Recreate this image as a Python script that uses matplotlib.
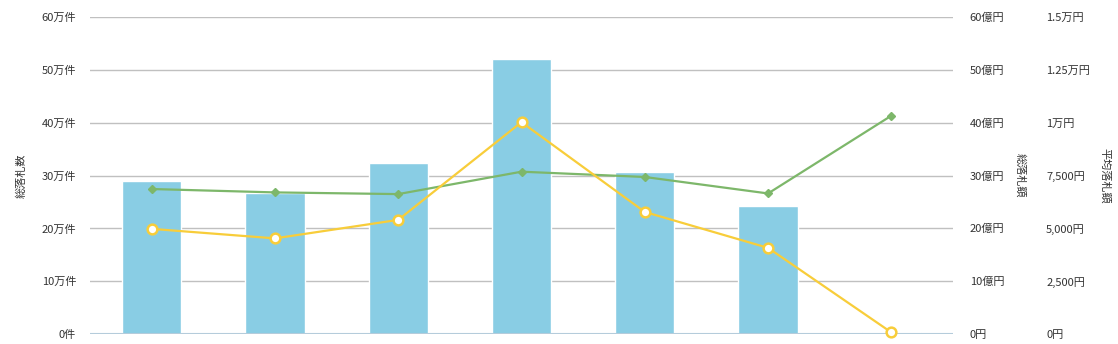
import matplotlib
matplotlib.use("Agg")
import matplotlib.pyplot as plt
from matplotlib.ticker import FixedLocator, FixedFormatter

plt.rcParams['font.family'] = ['Noto Sans CJK JP', 'DejaVu Sans']

# Data
categories = ["1", "2", "3", "4", "5", "6", "7"]
total_count_man = [29.0, 26.7, 32.4, 52.0, 30.7, 24.2, 0.3]      # 万件
total_amount_oku = [19.9, 18.1, 21.6, 40.1, 23.1, 16.3, 0.3]     # 億円
avg_amount_yen = [6860, 6700, 6620, 7680, 7430, 6650, 10330]     # 円

left_ticks = [0, 10, 20, 30, 40, 50, 60]
left_labels = ["0件", "10万件", "20万件", "30万件", "40万件", "50万件", "60万件"]
mid_ticks = [0, 10, 20, 30, 40, 50, 60]
mid_labels = ["0円", "10億円", "20億円", "30億円", "40億円", "50億円", "60億円"]
avg_ticks = [0, 2500, 5000, 7500, 10000, 12500, 15000]
avg_labels = ["0円", "2,500円", "5,000円", "7,500円", "1万円", "1.25万円", "1.5万円"]

W, H = 1118, 344
fig = plt.figure(figsize=(W / 100, H / 100), dpi=100)
x0, x1, y0, y1 = 90, 953, 17, 334
ax = fig.add_axes([x0 / W, 1 - y1 / H, (x1 - x0) / W, (y1 - y0) / H])
ax2 = ax.twinx()
ax3 = ax.twinx()

text_color = "#333333"
grid_color = "#c0c0c0"

xs = list(range(len(categories)))
ax.set_xlim(-0.5, len(categories) - 0.5)
ax.set_ylim(0, 60)
ax2.set_ylim(0, 60)
ax3.set_ylim(0, 15000)

for t in left_ticks[1:]:
    ax.axhline(t, color=grid_color, lw=1, zorder=0)

ax.bar(xs, total_count_man, width=0.48, color="#89cde4", edgecolor="white",
       linewidth=1, zorder=2)
ax.axhline(0, color="#b5ccdb", lw=1.5, zorder=3)

ax2.plot(xs, total_amount_oku, color="#f8cd3a", lw=1.6, marker="o",
         markersize=7, markerfacecolor="white", markeredgecolor="#f8cd3a",
         markeredgewidth=1.8, zorder=5, clip_on=False)
ax3.plot(xs, avg_amount_yen, color="#7db76a", lw=1.6, marker="D",
         markersize=4.5, markerfacecolor="#7db76a", markeredgecolor="#7db76a",
         zorder=4, clip_on=False)

for a in (ax, ax2, ax3):
    for s in a.spines.values():
        s.set_visible(False)
    a.set_xticks([])
    a.patch.set_visible(False)

ax.yaxis.set_major_locator(FixedLocator(left_ticks))
ax.yaxis.set_major_formatter(FixedFormatter(left_labels))
ax.tick_params(axis='y', length=0, pad=10, labelsize=8, labelcolor=text_color)

ax2.yaxis.set_major_locator(FixedLocator(mid_ticks))
ax2.yaxis.set_major_formatter(FixedFormatter(mid_labels))
ax2.tick_params(axis='y', length=0, pad=12, labelsize=8, labelcolor=text_color)

ax3.yaxis.set_major_locator(FixedLocator(avg_ticks))
ax3.yaxis.set_major_formatter(FixedFormatter(avg_labels))
ax3.tick_params(axis='y', length=0, pad=67, labelsize=8, labelcolor=text_color)

ax.set_ylabel("総落札数", fontsize=8, color=text_color, rotation=90)
ax.yaxis.set_label_coords((27 - x0) / (x1 - x0), 0.5)
ax2.set_ylabel("総落札額", fontsize=8, color=text_color, rotation=270, va="center")
ax2.yaxis.set_label_coords((1020 - x0) / (x1 - x0), 0.5)
ax3.set_ylabel("平均落札額", fontsize=8, color=text_color, rotation=270, va="center")
ax3.yaxis.set_label_coords((1105 - x0) / (x1 - x0), 0.5)

ax.set_zorder(1)
ax2.set_zorder(3)
ax3.set_zorder(2)

fig.savefig("out.png", dpi=100, facecolor="white")
